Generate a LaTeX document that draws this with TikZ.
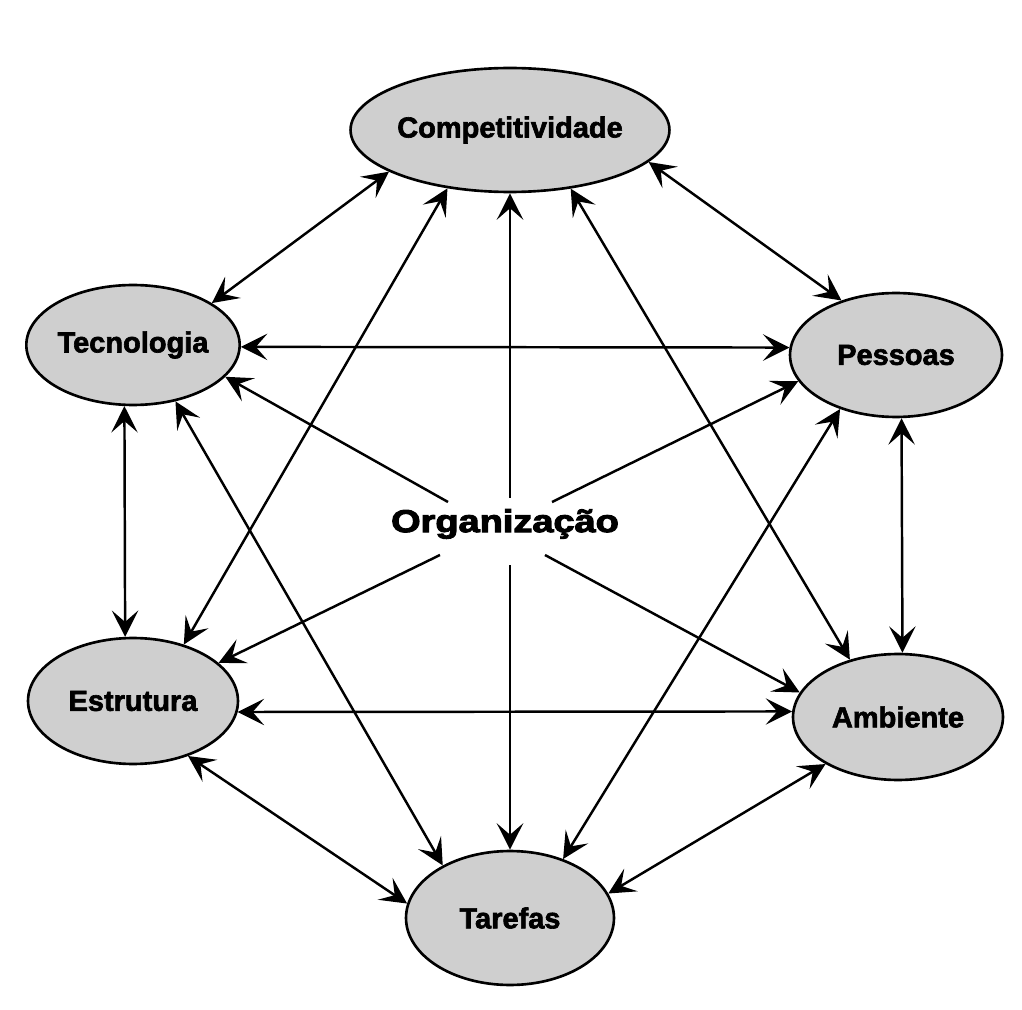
\documentclass[tikz,border=0pt]{standalone}
\usepackage{fontspec}
\setmainfont{Liberation Sans}
\newfontfamily\heavy{Liberation Sans}[UprightFeatures={FakeBold=2.2}, BoldFeatures={FakeBold=2.2}]
\newfontfamily\heavier{Liberation Sans}[UprightFeatures={FakeBold=3}, BoldFeatures={FakeBold=3}]
\usetikzlibrary{shapes.geometric,arrows.meta}
\definecolor{ellfill}{gray}{0.81}
\tikzset{
  ell/.style={ellipse, draw=black, line width=1.5pt, fill=ellfill, inner sep=0pt,
    font=\heavy\bfseries\fontsize{16.5}{18}\selectfont},
  con/.style={line width=1.4pt, {Stealth[length=15pt,width=15pt,inset=6.5pt]}-{Stealth[length=15pt,width=15pt,inset=6.5pt]}},
  rad/.style={line width=1.4pt, -{Stealth[length=15pt,width=15pt,inset=6.5pt]}},
}
\begin{document}
\begin{tikzpicture}[x=0.02cm,y=-0.02cm]
\useasboundingbox[fill=white] (0,0) rectangle (1022,1010);
% nodes
\node[ell, minimum width=4.76cm, minimum height=2.48cm] (comp) at (510,130) {Competitividade};
\node[ell, minimum width=4.2cm, minimum height=2.4cm] (tec) at (133,345) {Tecnologia};
\node[ell, minimum width=4.24cm, minimum height=2.48cm] (pes) at (896,355) {Pessoas};
\node[ell, minimum width=4.2cm, minimum height=2.52cm] (est) at (133,701) {Estrutura};
\node[ell, minimum width=4.2cm, minimum height=2.52cm] (amb) at (898,717) {Ambiente};
\node[ell, minimum width=4.16cm, minimum height=2.68cm] (tar) at (510,918) {Tarefas};
\node[font=\heavier\bfseries\fontsize{18}{20}\selectfont] (org) at (505,524) {\scalebox{1.2}[1]{Organização}};
% start points of the radial arrows
\coordinate (oT) at (448,502);
\coordinate (oP) at (552,502);
\coordinate (oE) at (440,555);
\coordinate (oA) at (545,555);
\coordinate (oC) at (510,498);
\coordinate (oF) at (510,565);
% radial arrows
\draw[rad] (oT) -- (tec.-19.3);
\draw[rad] (oP) -- (pes.195.4);
\draw[rad] (oE) -- (est.24.1);
\draw[rad] (oA) -- (amb.166.2);
\draw[rad] (oC) -- (comp.270);
\draw[rad] (oF) -- (tar.90);
% double arrows
\draw[con] (comp.199) -- (tec.28.3);
\draw[con] (comp.223) -- (est.48.5);
\draw[con] (comp.316.8) -- (amb.130.5);
\draw[con] (comp.347.6) -- (pes.135.5);
\draw[con] (tec.-1.5) -- (pes.176);
\draw[con] (tec.-98.5) -- (est.97.7);
\draw[con] (tec.-53.1) -- (tar.142.5);
\draw[con] (pes.275.3) -- (amb.86.5);
\draw[con] (pes.224.5) -- (tar.48.5);
\draw[con] (est.-6.6) -- (amb.177.8);
\draw[con] (est.-45) -- (tar.172);
\draw[con] (amb.213.7) -- (tar.14.9);
\end{tikzpicture}
\end{document}
